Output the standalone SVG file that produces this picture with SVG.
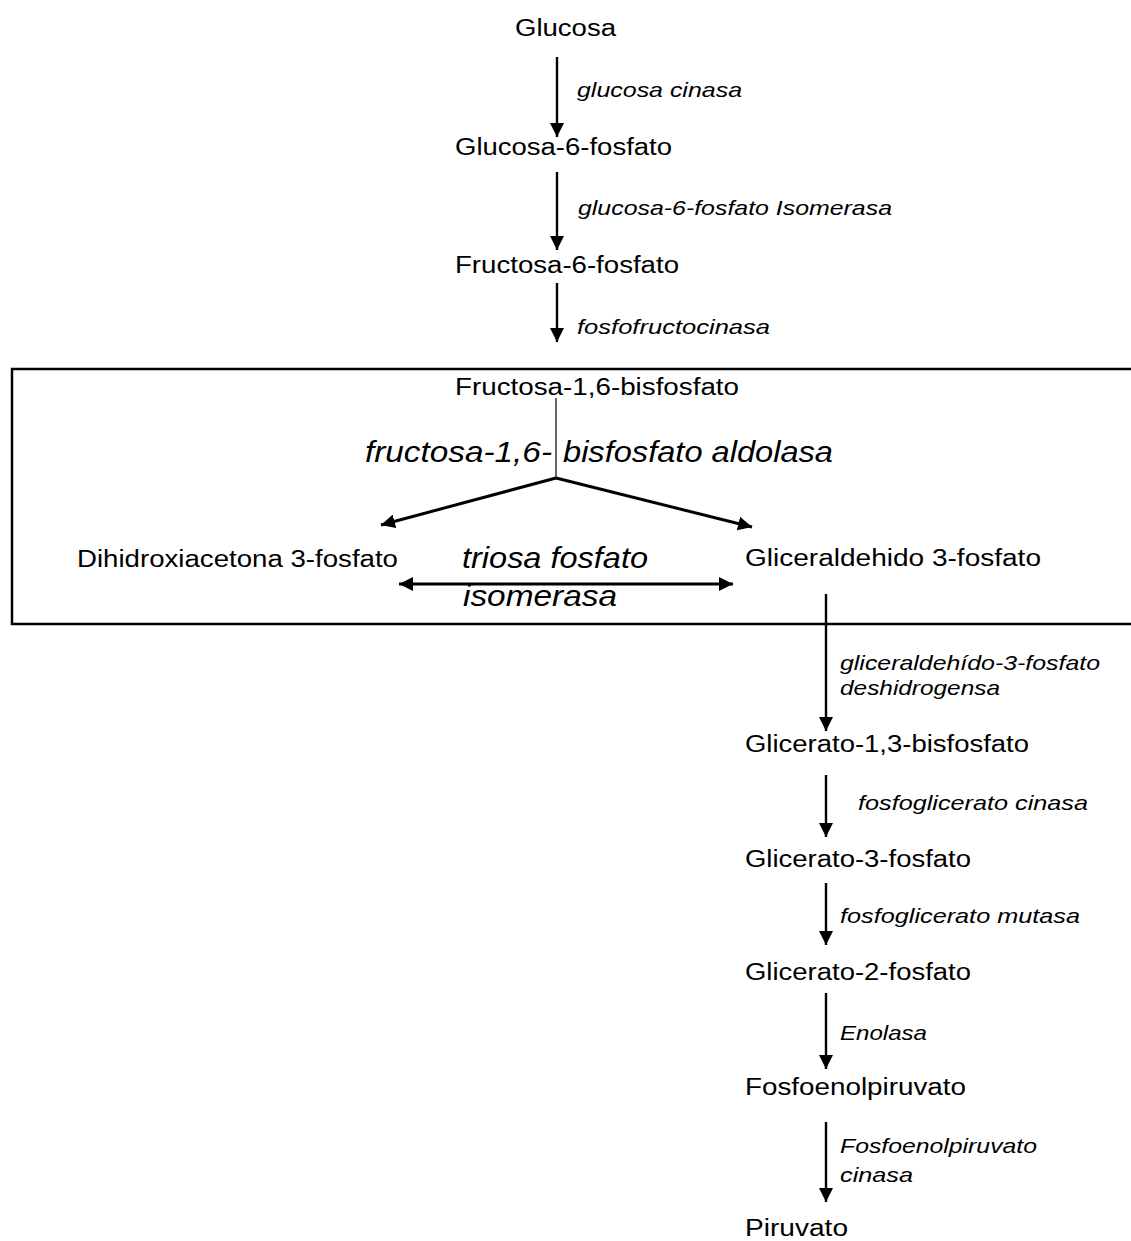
<svg xmlns="http://www.w3.org/2000/svg" width="1131" height="1241" viewBox="0 0 1131 1241">
<style>
text{font-family:"Liberation Sans",Arial,sans-serif;fill:#000}
.n{font-size:23px}
.e{font-size:21px;font-style:italic}
.b{font-size:29px;font-style:italic}
.c{stroke:#000;stroke-width:2.4;fill:none}
.t{stroke:#000;stroke-width:3;fill:none}
</style>
<defs>
<marker id="ah" viewBox="0 0 10 10" refX="10" refY="5" markerWidth="14" markerHeight="14" markerUnits="userSpaceOnUse" orient="auto-start-reverse">
<path d="M0,0 L10,5 L0,10 z" fill="#000"/>
</marker>
</defs>
<rect width="1131" height="1241" fill="#fff"/>
<path id="frame" d="M1131,369 H12 V624 H1131" fill="none" stroke="#000" stroke-width="2.5"/>
<g id="connectors">
<line class="c" x1="557" y1="57" x2="557" y2="137" marker-end="url(#ah)"/>
<line class="c" x1="557" y1="172" x2="557" y2="250" marker-end="url(#ah)"/>
<line class="c" x1="557" y1="283" x2="557" y2="342" marker-end="url(#ah)"/>
<line x1="556" y1="398" x2="556" y2="478" stroke="#000" stroke-width="1.2"/>
<line class="t" x1="556" y1="478" x2="381" y2="525" marker-end="url(#ah)"/>
<line class="t" x1="556" y1="478" x2="752" y2="527" marker-end="url(#ah)"/>
<line class="t" x1="399" y1="584" x2="733" y2="584" marker-start="url(#ah)" marker-end="url(#ah)"/>
<line class="c" x1="826" y1="594" x2="826" y2="731" marker-end="url(#ah)"/>
<line class="c" x1="826" y1="775" x2="826" y2="837" marker-end="url(#ah)"/>
<line class="c" x1="826" y1="883" x2="826" y2="945" marker-end="url(#ah)"/>
<line class="c" x1="826" y1="993" x2="826" y2="1069" marker-end="url(#ah)"/>
<line class="c" x1="826" y1="1122" x2="826" y2="1202" marker-end="url(#ah)"/>
</g>
<g id="labels">
<text class="e" x="577" y="97" textLength="165" lengthAdjust="spacingAndGlyphs">glucosa cinasa</text>
<text class="e" x="578" y="215" textLength="314" lengthAdjust="spacingAndGlyphs">glucosa-6-fosfato Isomerasa</text>
<text class="e" x="577" y="334" textLength="193" lengthAdjust="spacingAndGlyphs">fosfofructocinasa</text>
<text class="b" x="365" y="462" textLength="187" lengthAdjust="spacingAndGlyphs">fructosa-1,6-</text>
<text class="b" x="563" y="462" textLength="270" lengthAdjust="spacingAndGlyphs">bisfosfato aldolasa</text>
<text class="b" x="462" y="568" textLength="186" lengthAdjust="spacingAndGlyphs">triosa fosfato</text>
<text class="b" x="463" y="606" textLength="154" lengthAdjust="spacingAndGlyphs">isomerasa</text>
<text class="e" x="840" y="670" textLength="260" lengthAdjust="spacingAndGlyphs">gliceraldehído-3-fosfato</text>
<text class="e" x="840" y="695" textLength="160" lengthAdjust="spacingAndGlyphs">deshidrogensa</text>
<text class="e" x="858" y="810" textLength="230" lengthAdjust="spacingAndGlyphs">fosfoglicerato cinasa</text>
<text class="e" x="840" y="923" textLength="240" lengthAdjust="spacingAndGlyphs">fosfoglicerato mutasa</text>
<text class="e" x="840" y="1040" textLength="87" lengthAdjust="spacingAndGlyphs">Enolasa</text>
<text class="e" x="840" y="1153" textLength="197" lengthAdjust="spacingAndGlyphs">Fosfoenolpiruvato</text>
<text class="e" x="840" y="1182" textLength="73" lengthAdjust="spacingAndGlyphs">cinasa</text>
</g>
<g id="n-glucosa"><text class="n" x="515" y="36" textLength="101" lengthAdjust="spacingAndGlyphs">Glucosa</text></g>
<g id="n-g6p"><text class="n" x="455" y="155" textLength="217" lengthAdjust="spacingAndGlyphs">Glucosa-6-fosfato</text></g>
<g id="n-f6p"><text class="n" x="455" y="273" textLength="224" lengthAdjust="spacingAndGlyphs">Fructosa-6-fosfato</text></g>
<g id="n-f16bp"><text class="n" x="455" y="395" textLength="284" lengthAdjust="spacingAndGlyphs">Fructosa-1,6-bisfosfato</text></g>
<g id="n-dhap"><text class="n" x="77" y="567" textLength="321" lengthAdjust="spacingAndGlyphs">Dihidroxiacetona 3-fosfato</text></g>
<g id="n-g3p"><text class="n" x="745" y="566" textLength="296" lengthAdjust="spacingAndGlyphs">Gliceraldehido 3-fosfato</text></g>
<g id="n-13bpg"><text class="n" x="745" y="752" textLength="284" lengthAdjust="spacingAndGlyphs">Glicerato-1,3-bisfosfato</text></g>
<g id="n-3pg"><text class="n" x="745" y="867" textLength="226" lengthAdjust="spacingAndGlyphs">Glicerato-3-fosfato</text></g>
<g id="n-2pg"><text class="n" x="745" y="980" textLength="226" lengthAdjust="spacingAndGlyphs">Glicerato-2-fosfato</text></g>
<g id="n-pep"><text class="n" x="745" y="1095" textLength="221" lengthAdjust="spacingAndGlyphs">Fosfoenolpiruvato</text></g>
<g id="n-piruvato"><text class="n" x="745" y="1236" textLength="103" lengthAdjust="spacingAndGlyphs">Piruvato</text></g>
</svg>
